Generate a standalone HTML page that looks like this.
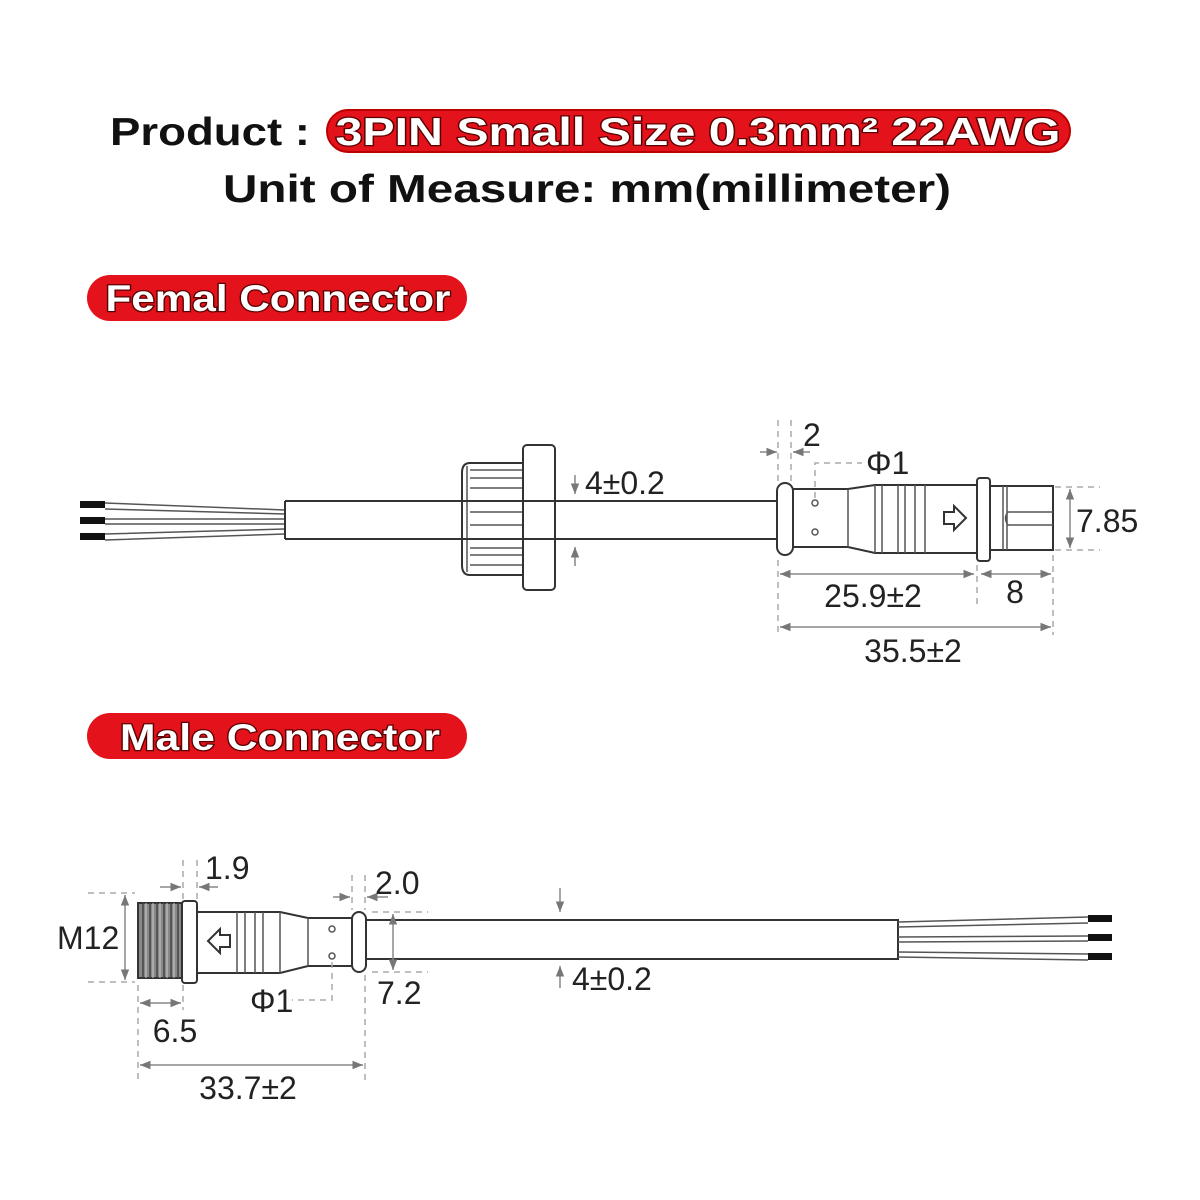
<!DOCTYPE html>
<html><head><meta charset="utf-8"><style>
html,body{margin:0;padding:0;background:#fff;}
svg{display:block;}
.t{font-family:"Liberation Sans",sans-serif;}
.d{font-family:"Liberation Sans",sans-serif;font-size:32px;fill:#222;}
.pill{font-family:"Liberation Sans",sans-serif;font-weight:bold;fill:#fff;stroke:#5a0000;stroke-width:2.5px;paint-order:stroke;}
.l{stroke:#333;stroke-width:2;fill:#fff;}
.ln{stroke:#333;stroke-width:2;fill:none;}
.th{stroke:#555;stroke-width:1.5;fill:none;}
.ds{stroke:#aaa;stroke-width:1.5;stroke-dasharray:6,5;fill:none;}
.dm{stroke:#888;stroke-width:1.5;fill:none;}
</style></head><body>
<svg width="1200" height="1200" viewBox="0 0 1200 1200" xmlns="http://www.w3.org/2000/svg">
<defs>
<marker id="a" viewBox="0 0 10 10" refX="10" refY="5" markerWidth="7" markerHeight="7" orient="auto-start-reverse"><path d="M0,1 L10,5 L0,9 z" fill="#777"/></marker>
</defs>
<!-- Title -->
<text x="110" y="145" class="t" font-size="39" font-weight="bold" fill="#111" textLength="200" lengthAdjust="spacingAndGlyphs">Product :</text>
<rect x="327" y="110" width="743" height="42" rx="21" fill="#e4121b" stroke="#b00" stroke-width="2"/>
<text x="698" y="145" class="pill" font-size="39" text-anchor="middle" textLength="725" lengthAdjust="spacingAndGlyphs">3PIN Small Size  0.3mm² 22AWG</text>
<text x="587" y="202" class="t" font-size="39" font-weight="bold" fill="#111" text-anchor="middle" textLength="728" lengthAdjust="spacingAndGlyphs">Unit of Measure:  mm(millimeter)</text>

<rect x="87" y="275" width="380" height="46" rx="23" fill="#e4121b"/>
<text x="278" y="311" class="pill" font-size="37" text-anchor="middle" textLength="345" lengthAdjust="spacingAndGlyphs">Femal Connector</text>
<rect x="87" y="713" width="380" height="46" rx="23" fill="#e4121b"/>
<text x="280" y="750" class="pill" font-size="37" text-anchor="middle" textLength="320" lengthAdjust="spacingAndGlyphs">Male Connector</text>

<!-- FEMALE -->
<g>
<path class="th" d="M105,503 L285,510 M105,509 L285,514 M105,519 L285,519 M105,524 L285,524 M105,534 L285,529 M105,540 L285,534"/>
<rect x="80" y="501" width="25" height="7" fill="#111"/>
<rect x="80" y="517" width="25" height="7" fill="#111"/>
<rect x="80" y="533" width="25" height="7" fill="#111"/>
<path class="ln" d="M285,501 L778,501 M285,539 L778,539 M285,501 L285,539"/>
<!-- nut -->
<path class="ln" d="M470,463 L523,463 L523,575 L470,575 Q462,575 462,565 L462,473 Q462,463 470,463 Z"/>
<path class="th" d="M467,466 V572 M470,470 H523 M470,478 H523 M470,488 H523 M470,512 H523 M470,525 H523 M470,548 H523 M470,555 H523 M470,565 H523"/>
<rect x="523" y="445" width="32" height="145" rx="4" class="ln"/>
<path class="ln" d="M462,501 H555 M462,539 H555"/>
<line x1="575" y1="475" x2="575" y2="494" class="dm" marker-end="url(#a)"/>
<line x1="575" y1="566" x2="575" y2="547" class="dm" marker-end="url(#a)"/>
<text x="585" y="494" class="d">4±0.2</text>
<!-- connector -->
<path class="ln" d="M793,489 H848 L875,485 H977 V553 H875 L848,547 H793 Z"/>
<path class="th" d="M848,489 V547 M875,485 V553 M882,485 V553 M898,485 V553 M905,485 V553 M915,485 V553 M925,485 V553"/>
<rect x="777" y="483" width="16" height="72" rx="8" class="l"/>
<circle cx="815" cy="503" r="3" class="th"/><circle cx="815" cy="532" r="3" class="th"/>
<path class="ln" d="M944,512 H954 V506 L966,518 L954,530 V524 H944 Z" stroke-width="1.6"/>
<rect x="990" y="486" width="63" height="64" class="l"/>
<rect x="977" y="478" width="13" height="83" rx="3" class="l"/>
<path class="th" d="M1003,486 V550 M1007,486 V550 M1053,512 H1008 Q1003,518 1008,525 H1053"/>
<!-- dims female -->
<path class="ds" d="M778,420 V485 M791,420 V485"/>
<line x1="760" y1="452" x2="777" y2="452" class="dm" marker-end="url(#a)"/>
<line x1="810" y1="452" x2="793" y2="452" class="dm" marker-end="url(#a)"/>
<text x="803" y="446" class="d">2</text>
<path class="ds" d="M815,498 V463 H862"/>
<text x="866" y="474" class="d">Φ1</text>
<path class="ds" d="M1055,487 H1100 M1055,550 H1100"/>
<line x1="1070" y1="520" x2="1070" y2="489" class="dm" marker-end="url(#a)"/>
<line x1="1070" y1="520" x2="1070" y2="548" class="dm" marker-end="url(#a)"/>
<text x="1076" y="532" class="d">7.85</text>
<path class="ds" d="M778,560 V635 M977,565 V605 M1053,555 V635"/>
<line x1="875" y1="574" x2="780" y2="574" class="dm" marker-end="url(#a)"/>
<line x1="875" y1="574" x2="974" y2="574" class="dm" marker-end="url(#a)"/>
<line x1="1015" y1="574" x2="981" y2="574" class="dm" marker-end="url(#a)"/>
<line x1="1015" y1="574" x2="1051" y2="574" class="dm" marker-end="url(#a)"/>
<text x="873" y="607" class="d" text-anchor="middle">25.9±2</text>
<text x="1015" y="603" class="d" text-anchor="middle">8</text>
<line x1="915" y1="627" x2="780" y2="627" class="dm" marker-end="url(#a)"/>
<line x1="915" y1="627" x2="1051" y2="627" class="dm" marker-end="url(#a)"/>
<text x="913" y="662" class="d" text-anchor="middle">35.5±2</text>
</g>

<!-- MALE -->
<g>
<path class="ln" d="M366,920 H898 V959 H366"/>
<path class="th" d="M898,922 L1088,917 M898,927 L1088,923 M898,937 L1088,936 M898,942 L1088,941 M898,952 L1088,954 M898,957 L1088,960"/>
<rect x="1088" y="915" width="24" height="7" fill="#111"/>
<rect x="1088" y="934" width="24" height="7" fill="#111"/>
<rect x="1088" y="953" width="24" height="7" fill="#111"/>
<!-- thread -->
<rect x="138" y="903" width="44" height="75" fill="#888" stroke="#333" stroke-width="2"/>
<path stroke="#444" stroke-width="1.5" fill="none" d="M143,903 V978 M150,903 V978 M157,903 V978 M164,903 V978 M171,903 V978 M178,903 V978"/>
<path stroke="#ccc" stroke-width="1" fill="none" d="M146,903 V978 M153,903 V978 M160,903 V978 M167,903 V978 M174,903 V978"/>
<rect x="182" y="901" width="15" height="82" rx="3" class="l"/>
<path class="ln" d="M197,912 H280 L308,918 H352 V966 H308 L280,973 H197 Z"/>
<path class="th" d="M237,912 V973 M245,912 V973 M255,912 V973 M263,912 V973 M280,912 V973 M308,918 V966"/>
<path class="ln" d="M230,935 H220 V929 L208,941 L220,953 V947 H230 Z" stroke-width="1.6"/>
<circle cx="332" cy="929" r="3" class="th"/><circle cx="332" cy="956" r="3" class="th"/>
<rect x="352" y="912" width="14" height="60" rx="7" class="l"/>
<!-- dims male -->
<path class="ds" d="M88,893 H135 M88,982 H135"/>
<line x1="125" y1="938" x2="125" y2="895" class="dm" marker-end="url(#a)"/>
<line x1="125" y1="938" x2="125" y2="980" class="dm" marker-end="url(#a)"/>
<text x="57" y="949" class="d">M12</text>
<path class="ds" d="M183,860 V900 M197,860 V900"/>
<line x1="160" y1="887" x2="181" y2="887" class="dm" marker-end="url(#a)"/>
<line x1="218" y1="887" x2="199" y2="887" class="dm" marker-end="url(#a)"/>
<text x="205" y="879" class="d">1.9</text>
<path class="ds" d="M352,875 V910 M365,875 V910"/>
<line x1="333" y1="897" x2="350" y2="897" class="dm" marker-end="url(#a)"/>
<line x1="388" y1="897" x2="367" y2="897" class="dm" marker-end="url(#a)"/>
<text x="375" y="894" class="d">2.0</text>
<path class="ds" d="M372,912 H428 M372,972 H428"/>
<line x1="393" y1="942" x2="393" y2="914" class="dm" marker-end="url(#a)"/>
<line x1="393" y1="942" x2="393" y2="970" class="dm" marker-end="url(#a)"/>
<text x="377" y="1004" class="d">7.2</text>
<line x1="560" y1="888" x2="560" y2="912" class="dm" marker-end="url(#a)"/>
<line x1="560" y1="988" x2="560" y2="966" class="dm" marker-end="url(#a)"/>
<text x="572" y="990" class="d">4±0.2</text>
<path class="ds" d="M332,962 V1000 H292"/>
<text x="250" y="1012" class="d">Φ1</text>
<path class="ds" d="M138,985 V1080 M183,985 V1010 M365,975 V1080"/>
<line x1="160" y1="1003" x2="140" y2="1003" class="dm" marker-end="url(#a)"/>
<line x1="160" y1="1003" x2="181" y2="1003" class="dm" marker-end="url(#a)"/>
<text x="175" y="1042" class="d" text-anchor="middle">6.5</text>
<line x1="250" y1="1065" x2="140" y2="1065" class="dm" marker-end="url(#a)"/>
<line x1="250" y1="1065" x2="363" y2="1065" class="dm" marker-end="url(#a)"/>
<text x="248" y="1099" class="d" text-anchor="middle">33.7±2</text>
</g>
</svg>
</body></html>
